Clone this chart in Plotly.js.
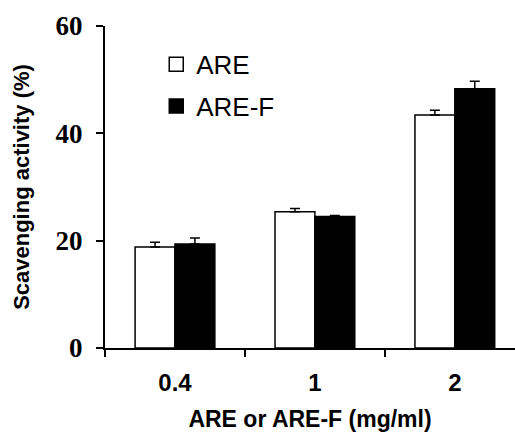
<!DOCTYPE html>
<html>
<head>
<meta charset="utf-8">
<script src="https://cdn.plot.ly/plotly-3.0.1.min.js"></script>
<style>html,body{margin:0;padding:0;background:#fff;}#chart{width:515px;height:433px;}</style>
</head>
<body>
<div id="chart"></div>
<script>
const categories = ["0.4", "1", "2"];
const areValues = [18.8, 25.4, 43.4];
const areErrors = [0.9, 0.6, 0.9];
const arefValues = [19.4, 24.5, 48.3];
const arefErrors = [1.1, 0.2, 1.4];
const seriesNames = ["ARE", "ARE-F"];
const yTickVals = [0, 20, 40, 60];

const traces = [
  {
    type: "bar", x: categories, y: areValues, name: seriesNames[0], showlegend: false,
    marker: {color: "#ffffff", line: {color: "#000000", width: 1.5}},
    error_y: {type: "data", array: areErrors, arrayminus: [0,0,0], symmetric: false, color: "#000", thickness: 1.5, width: 5}
  },
  {
    type: "bar", x: categories, y: arefValues, name: seriesNames[1], showlegend: false,
    marker: {color: "#000000", line: {color: "#000000", width: 1.5}},
    error_y: {type: "data", array: arefErrors, arrayminus: [0,0,0], symmetric: false, color: "#000", thickness: 1.5, width: 5}
  },
  {
    type: "scatter", mode: "markers", x: [null], y: [null], name: seriesNames[0], legendgroup: "a",
    marker: {symbol: "square", size: 14, color: "#ffffff", line: {color: "#000", width: 1.5}}
  },
  {
    type: "scatter", mode: "markers", x: [null], y: [null], name: seriesNames[1], legendgroup: "b",
    marker: {symbol: "square", size: 14, color: "#000000", line: {color: "#000", width: 1.5}}
  }
];

const layout = {
  width: 515, height: 433,
  margin: {l: 105, r: 0, t: 26, b: 85},
  paper_bgcolor: "#fff", plot_bgcolor: "#fff",
  barmode: "group", bargap: 0.43, bargroupgap: 0,
  showlegend: true,
  legend: {x: 0.125, y: 0.954, xanchor: "left", yanchor: "top", traceorder: "grouped", tracegroupgap: 5,
    font: {family: "Liberation Sans, Arial, sans-serif", size: 26, color: "#000"}, bgcolor: "rgba(0,0,0,0)", itemwidth: 30},
  xaxis: {
    type: "category", range: [-0.5, 2.43], showgrid: false, zeroline: false, automargin: true,
    showline: true, linecolor: "#000", linewidth: 2,
    ticks: "outside", tickson: "boundaries", ticklen: 7, tickwidth: 2, tickcolor: "#000", ticklabelstandoff: 12,
    tickfont: {family: "Liberation Sans, Arial, sans-serif", size: 24, color: "#000", weight: "bold"},
    title: {text: "ARE or ARE-F (mg/ml)", standoff: 16, font: {family: "Liberation Sans, Arial, sans-serif", size: 23, color: "#000", weight: "bold"}}
  },
  yaxis: {
    range: [0, 60], tickvals: yTickVals, showgrid: false, zeroline: false,
    showline: true, linecolor: "#000", linewidth: 2,
    ticks: "outside", ticklen: 7, tickwidth: 2, tickcolor: "#000", ticklabelstandoff: 8,
    tickfont: {family: "Liberation Serif, Times New Roman, serif", size: 27, color: "#000", weight: "bold"},
    title: {text: "Scavenging activity (%)", standoff: 20, font: {family: "Liberation Sans, Arial, sans-serif", size: 22, color: "#000", weight: "bold"}}
  }
};

Plotly.newPlot("chart", traces, layout, {displayModeBar: false, staticPlot: true});
</script>
</body>
</html>
